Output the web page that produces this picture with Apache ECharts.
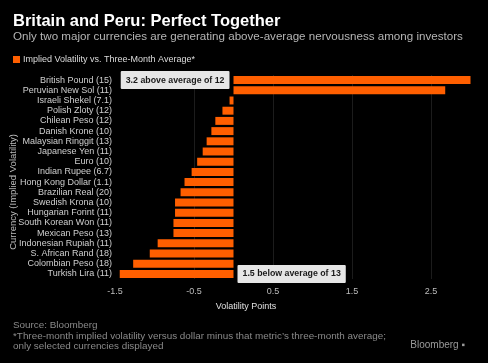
<!DOCTYPE html>
<html>
<head>
<meta charset="utf-8">
<script src="https://cdn.jsdelivr.net/npm/echarts@6/dist/echarts.min.js"></script>
<style>
html,body{margin:0;padding:0;background:#000;}
#c{width:488px;height:363px;}
</style>
</head>
<body>
<div id="c"></div>
<script>
var categories = ["British Pound (15)","Peruvian New Sol (11)","Israeli Shekel (7.1)","Polish Zloty (12)","Chilean Peso (12)","Danish Krone (10)","Malaysian Ringgit (13)","Japanese Yen (11)","Euro (10)","Indian Rupee (6.7)","Hong Kong Dollar (1.1)","Brazilian Real (20)","Swedish Krona (10)","Hungarian Forint (11)","South Korean Won (11)","Mexican Peso (13)","Indonesian Rupiah (11)","S. African Rand (18)","Colombian Peso (18)","Turkish Lira (11)"];
var values = [3.0,2.68,-0.05,-0.14,-0.23,-0.28,-0.34,-0.39,-0.46,-0.53,-0.62,-0.67,-0.74,-0.74,-0.76,-0.76,-0.96,-1.06,-1.27,-1.44];
var annotations = {0:"3.2 above average of 12", 19:"1.5 below average of 13"};
var xTicks = {min:-1.5, max:3.0, interval:1};

var FONT = "Liberation Sans, Arial, sans-serif";
var data = values.map(function(v,i){
  var d = {value:v};
  if (annotations[i] !== undefined) {
    d.label = {
      show:true,
      position: v >= 0 ? 'left' : 'right',
      distance: 4,
      formatter: annotations[i],
      backgroundColor:'#e6e6e6',
      color:'#1a1a1a',
      fontWeight:'bold',
      fontSize:8.8,
      fontFamily:FONT,
      padding:[5,5,4,5],
      borderRadius:1
    };
  }
  return d;
});

var chart = echarts.init(document.getElementById('c'), null, {renderer:'canvas'});
chart.setOption({
  backgroundColor:'#000',
  animation:false,
  title:[
    {text:'Britain and Peru: Perfect Together', left:13, top:13, padding:0,
     textStyle:{color:'#fff', fontSize:16.5, fontWeight:'bold', fontFamily:FONT}},
    {text:'Only two major currencies are generating above-average nervousness among investors', left:13, top:31, padding:0,
     textStyle:{color:'#b5b5b5', fontSize:11.6, fontWeight:'normal', fontFamily:FONT}}
  ],
  legend:{
    left:8, top:50, itemWidth:7, itemHeight:7, itemGap:4,
    icon:'rect',
    textStyle:{color:'#dcdcdc', fontSize:9, fontFamily:FONT, padding:[0,0,0,-2]},
    data:['Implied Volatility vs. Three-Month Average*']
  },
  grid:{left:115, right:17.5, top:75, bottom:84},
  xAxis:{
    type:'value', min:xTicks.min, max:xTicks.max, interval:xTicks.interval,
    axisLine:{show:false}, axisTick:{show:false},
    splitLine:{show:true, showMinLine:false, showMaxLine:false, lineStyle:{color:'#1c1c1c', width:1}},
    axisLabel:{color:'#bdbdbd', fontSize:9, fontFamily:FONT, margin:8, showMaxLabel:false}
  },
  yAxis:{
    type:'category', data:categories, inverse:true,
    axisLine:{show:false}, axisTick:{show:false},
    axisLabel:{color:'#cfcfcf', fontSize:9, fontFamily:FONT, margin:3, interval:0}
  },
  series:[{
    name:'Implied Volatility vs. Three-Month Average*',
    type:'bar', data:data, barCategoryGap:'22%',
    itemStyle:{color:'#ff5f00'}
  }],
  graphic:[
    {type:'text', x:246, y:307, style:{text:'Volatility Points', fill:'#e0e0e0', font:'9px '+FONT, textAlign:'center', textVerticalAlign:'middle'}},
    {type:'text', x:13, y:192, rotation:Math.PI/2, style:{text:'Currency (Implied Volatility)', fill:'#bdbdbd', font:'9.5px '+FONT, textAlign:'center', textVerticalAlign:'middle'}},
    {type:'text', x:13, y:325, style:{text:'Source: Bloomberg', fill:'#8a8a8a', font:'9.9px '+FONT, textVerticalAlign:'middle'}},
    {type:'text', x:13, y:336, style:{text:'*Three-month implied volatility versus dollar minus that metric\u2019s three-month average;', fill:'#8a8a8a', font:'9.9px '+FONT, textVerticalAlign:'middle'}},
    {type:'text', x:13, y:346, style:{text:'only selected currencies displayed', fill:'#8a8a8a', font:'9.9px '+FONT, textVerticalAlign:'middle'}},
    {type:'text', x:465, y:345, style:{text:'Bloomberg \u25AA', fill:'#9a9a9a', font:'10px '+FONT, textAlign:'right', textVerticalAlign:'middle'}}
  ]
});
</script>
</body>
</html>
